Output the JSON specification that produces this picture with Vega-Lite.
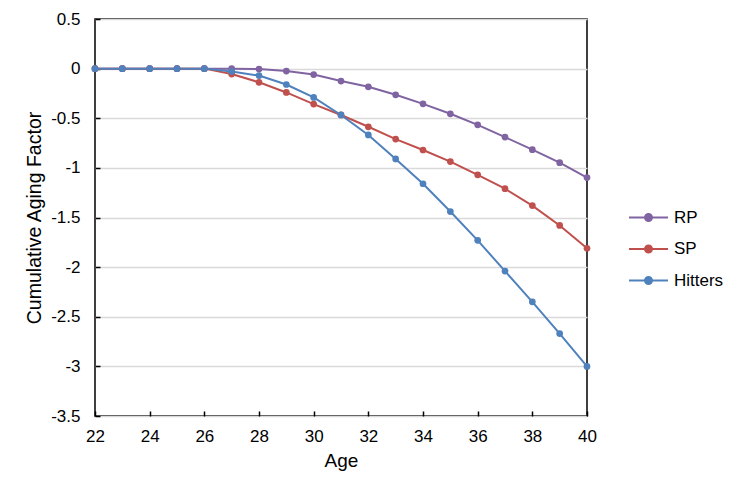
{
  "$schema": "https://vega.github.io/schema/vega-lite/v6.json",
  "width": 492,
  "height": 397,
  "autosize": "none",
  "padding": {"left": 95, "top": 19, "right": 149, "bottom": 77},
  "background": "white",
  "config": {
    "font": "Liberation Sans",
    "view": {"stroke": "black", "strokeWidth": 1.5},
    "axis": {"labelFont": "Liberation Sans", "titleFont": "Liberation Sans", "labelColor": "black", "titleColor": "black", "titleFontWeight": "normal", "domain": false, "tickColor": "black", "tickWidth": 1.5}
  },
  "data": {
    "values": [
      {"series": "RP", "age": 22, "value": 0},
      {"series": "RP", "age": 23, "value": 0},
      {"series": "RP", "age": 24, "value": 0},
      {"series": "RP", "age": 25, "value": 0},
      {"series": "RP", "age": 26, "value": 0},
      {"series": "RP", "age": 27, "value": 0},
      {"series": "RP", "age": 28, "value": -0.005},
      {"series": "RP", "age": 29, "value": -0.025},
      {"series": "RP", "age": 30, "value": -0.06},
      {"series": "RP", "age": 31, "value": -0.125},
      {"series": "RP", "age": 32, "value": -0.183},
      {"series": "RP", "age": 33, "value": -0.264},
      {"series": "RP", "age": 34, "value": -0.355},
      {"series": "RP", "age": 35, "value": -0.455},
      {"series": "RP", "age": 36, "value": -0.566},
      {"series": "RP", "age": 37, "value": -0.69},
      {"series": "RP", "age": 38, "value": -0.817},
      {"series": "RP", "age": 39, "value": -0.948},
      {"series": "RP", "age": 40, "value": -1.098},
      {"series": "SP", "age": 22, "value": 0},
      {"series": "SP", "age": 23, "value": 0},
      {"series": "SP", "age": 24, "value": 0},
      {"series": "SP", "age": 25, "value": 0},
      {"series": "SP", "age": 26, "value": 0},
      {"series": "SP", "age": 27, "value": -0.055},
      {"series": "SP", "age": 28, "value": -0.138},
      {"series": "SP", "age": 29, "value": -0.24},
      {"series": "SP", "age": 30, "value": -0.357},
      {"series": "SP", "age": 31, "value": -0.467},
      {"series": "SP", "age": 32, "value": -0.586},
      {"series": "SP", "age": 33, "value": -0.71},
      {"series": "SP", "age": 34, "value": -0.82},
      {"series": "SP", "age": 35, "value": -0.937},
      {"series": "SP", "age": 36, "value": -1.07},
      {"series": "SP", "age": 37, "value": -1.21},
      {"series": "SP", "age": 38, "value": -1.38},
      {"series": "SP", "age": 39, "value": -1.58},
      {"series": "SP", "age": 40, "value": -1.81},
      {"series": "Hitters", "age": 22, "value": 0},
      {"series": "Hitters", "age": 23, "value": 0},
      {"series": "Hitters", "age": 24, "value": 0},
      {"series": "Hitters", "age": 25, "value": 0},
      {"series": "Hitters", "age": 26, "value": 0},
      {"series": "Hitters", "age": 27, "value": -0.03},
      {"series": "Hitters", "age": 28, "value": -0.07},
      {"series": "Hitters", "age": 29, "value": -0.16},
      {"series": "Hitters", "age": 30, "value": -0.29},
      {"series": "Hitters", "age": 31, "value": -0.467},
      {"series": "Hitters", "age": 32, "value": -0.668},
      {"series": "Hitters", "age": 33, "value": -0.91},
      {"series": "Hitters", "age": 34, "value": -1.16},
      {"series": "Hitters", "age": 35, "value": -1.44},
      {"series": "Hitters", "age": 36, "value": -1.73},
      {"series": "Hitters", "age": 37, "value": -2.04},
      {"series": "Hitters", "age": 38, "value": -2.35},
      {"series": "Hitters", "age": 39, "value": -2.67},
      {"series": "Hitters", "age": 40, "value": -3.0}
    ]
  },
  "encoding": {
    "x": {
      "field": "age", "type": "quantitative",
      "scale": {"domain": [22, 40], "nice": false, "zero": false},
      "axis": {"values": [22, 24, 26, 28, 30, 32, 34, 36, 38, 40], "grid": false, "tickSize": -5, "labelPadding": 17, "labelFontSize": 17, "title": "Age", "titleFontSize": 19, "titlePadding": 7, "labelFlush": false}
    },
    "y": {
      "field": "value", "type": "quantitative",
      "scale": {"domain": [-3.5, 0.5], "nice": false, "zero": false},
      "axis": {"values": [0.5, 0, -0.5, -1, -1.5, -2, -2.5, -3, -3.5], "grid": true, "gridColor": "#D9D9D9", "gridWidth": 1.5, "tickSize": -5, "labelPadding": 20, "labelFontSize": 17, "labelExpr": "toString(datum.value)", "title": "Cumulative Aging Factor", "titleFontSize": 19.5, "titlePadding": 6}
    },
    "color": {
      "field": "series", "type": "nominal",
      "scale": {"domain": ["RP", "SP", "Hitters"], "range": ["#8064A2", "#C0504D", "#4F81BD"]},
      "legend": {
        "title": null, "orient": "none", "legendX": 533, "legendY": 178,
        "labelFontSize": 17, "labelColor": "black", "labelFont": "Liberation Sans",
        "symbolType": "M-1,0L1,0M0.18,0A0.18,0.18,0,1,1,-0.18,0A0.18,0.18,0,1,1,0.18,0Z",
        "symbolSize": 1521, "symbolStrokeWidth": 2, "rowPadding": 2.5, "labelOffset": 5,
        "encode": {"symbols": {"update": {"fill": {"scale": "color", "field": "value"}}}}
      }
    }
  },
  "layer": [
    {"mark": {"type": "line", "strokeWidth": 2}},
    {"mark": {"type": "circle", "size": 45, "opacity": 1}}
  ]
}
